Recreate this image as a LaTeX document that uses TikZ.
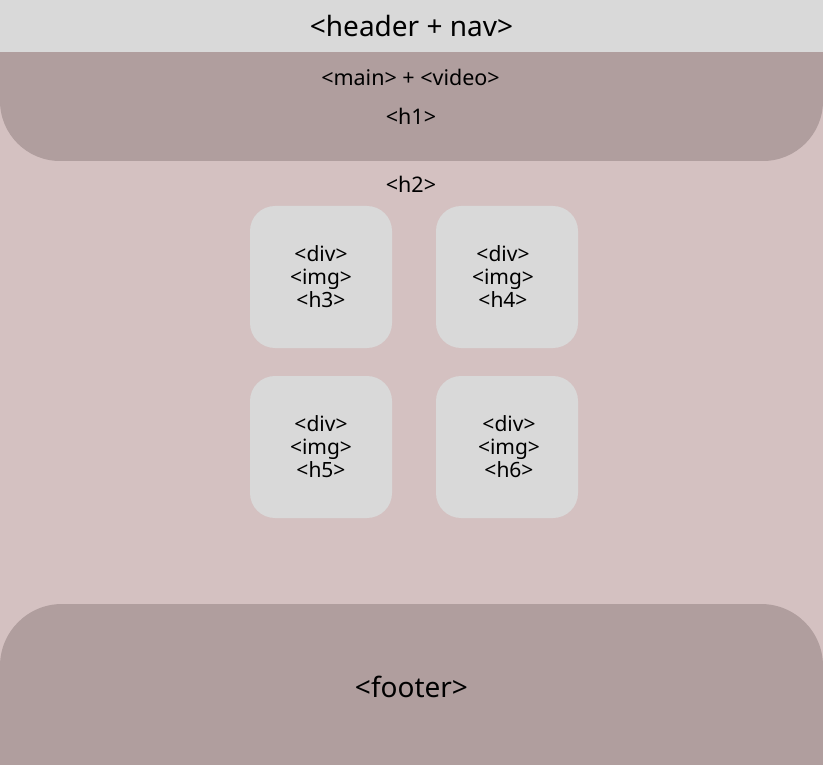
\documentclass[tikz,border=0pt]{standalone}
\usepackage{fontspec}
\setmainfont{Noto Sans}
\definecolor{pagebg}{HTML}{D4C1C1}
\definecolor{band}{HTML}{B09E9E}
\definecolor{lightgray}{HTML}{D9D9D9}
\tikzset{
  cardbox/.style={fill=lightgray, rounded corners=25pt},
  cardtext/.style={align=center, font=\fontsize{21}{23}\selectfont, inner sep=0pt},
  midtext/.style={font=\fontsize{21.5}{24}\selectfont, inner sep=0pt},
  bigtext/.style={font=\fontsize{28}{32}\selectfont, inner sep=0pt}
}
\begin{document}
\begin{tikzpicture}[x=1pt,y=-1pt]
\useasboundingbox (0,0) rectangle (823,765);
\fill[pagebg] (0,0) rectangle (823,765);
% main band
\fill[band, rounded corners=60pt] (0,0) rectangle (823,161);
\fill[band] (0,40) rectangle (823,101);
% header
\fill[lightgray] (0,0) rectangle (823,52);
\node[bigtext] (header) at (411.5,26) {<header + nav>};
\node[midtext] (main) at (410.5,77) {<main> + <video>};
\node[midtext] (h1) at (411,116) {<h1>};
\node[midtext] (h2) at (411,184) {<h2>};
% cards
\fill[cardbox] (250,206) rectangle (392,348);
\fill[cardbox] (436,206) rectangle (578,348);
\fill[cardbox] (250,376) rectangle (392,518);
\fill[cardbox] (436,376) rectangle (578,518);
\node[cardtext] (c1) at (321,277) {<div>\\<img>\\<h3>};
\node[cardtext] (c2) at (503,277) {<div>\\<img>\\<h4>};
\node[cardtext] (c3) at (321,447) {<div>\\<img>\\<h5>};
\node[cardtext] (c4) at (509,447) {<div>\\<img>\\<h6>};
% footer
\fill[band, rounded corners=62pt] (0,604) rectangle (823,830);
\node[bigtext] (footer) at (411.5,687) {<footer>};
\end{tikzpicture}
\end{document}
